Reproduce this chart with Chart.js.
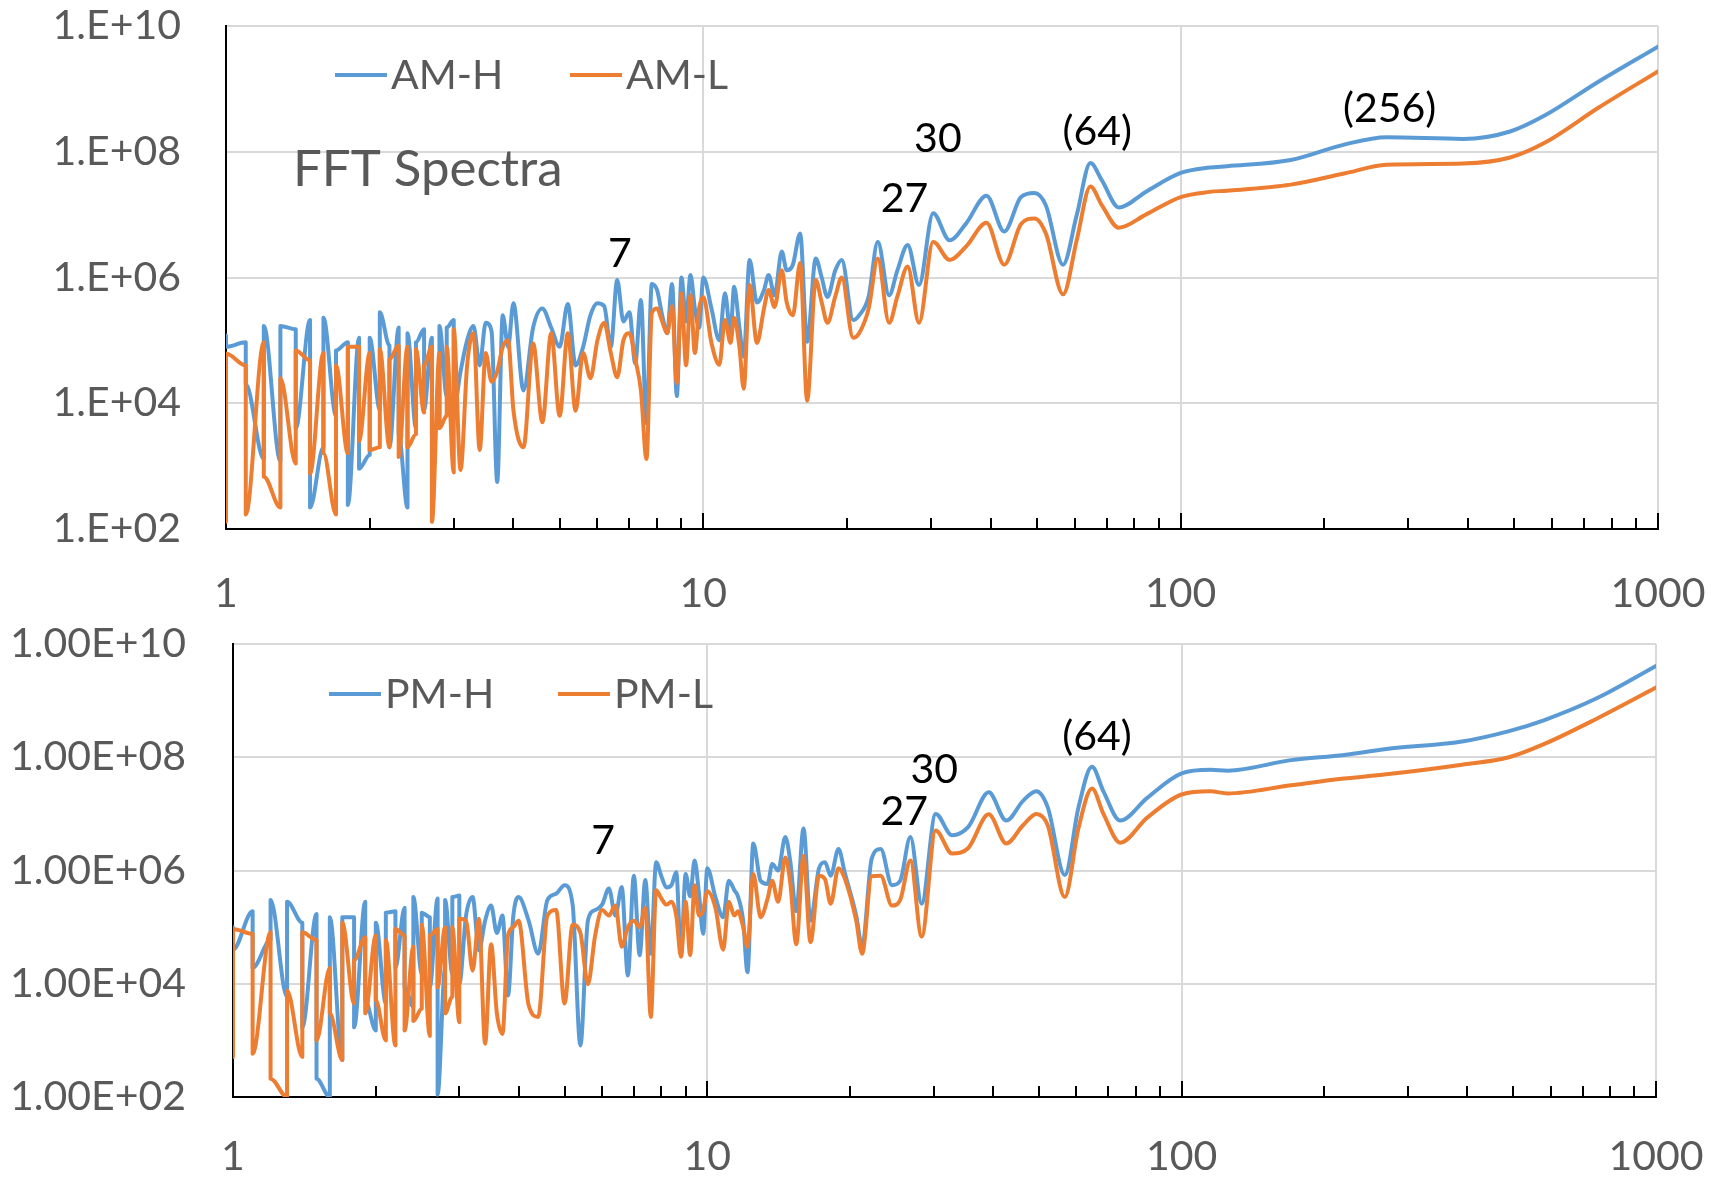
<!DOCTYPE html>
<html>
<head>
<meta charset="utf-8">
<title>FFT Spectra</title>
<script src="https://cdn.jsdelivr.net/npm/chart.js@4.4.1/dist/chart.umd.min.js"></script>
<style>
  html, body { margin: 0; padding: 0; background: #fff; }
  #wrap { position: relative; width: 1719px; height: 1178px; overflow: hidden; }
  #amChart { position: absolute; left: 0; top: 0; }
  #pmChart { position: absolute; left: 0; top: 600px; }
</style>
</head>
<body>
<div id="wrap">
  <canvas id="amChart" width="1719" height="630"></canvas>
  <canvas id="pmChart" width="1719" height="578"></canvas>
</div>
<script>
// Period axis (shared by all four spectra). Below 3 the values come in pairs
// (several FFT bins rounded onto the same period -> vertical combs).
const period = [
  1, 1, 1.1, 1.1, 1.2, 1.2, 1.3, 1.3, 1.4, 1.4, 1.5, 1.5, 1.6, 1.6, 1.7, 1.7, 1.8, 1.8, 1.9, 1.9,
  2, 2, 2.1, 2.1, 2.2, 2.2, 2.3, 2.3, 2.4, 2.4, 2.5, 2.5, 2.6, 2.6, 2.7, 2.7, 2.8, 2.8, 2.9, 2.9, 3, 3,
  3.1, 3.2, 3.3, 3.4, 3.5, 3.6, 3.7, 3.8, 3.9, 4,
  4.2, 4.4, 4.6, 4.8, 5, 5.2, 5.4, 5.6, 5.8, 6, 6.2, 6.4, 6.6, 6.8, 7, 7.2, 7.4, 7.6, 7.8, 8,
  8.2, 8.4, 8.6, 8.8, 9, 9.2, 9.4, 9.6, 9.8,
  10, 10.4, 10.8, 11.1, 11.4, 11.6, 11.9, 12.15, 12.5, 12.95, 13.4, 13.7, 14.1, 14.6, 14.95,
  15.4, 15.95, 16.5, 17.2, 17.7, 18.2, 18.9, 19.5, 20.6, 21.2, 22.2, 23.2, 24.5, 25.5, 26.8,
  28.3, 30.3, 32.8, 35.5, 39.2, 42.7, 46.3, 49.4, 52.2, 56.7, 60.6, 64.7, 68.4, 74.2, 84.5,
  100, 115, 125, 170, 220, 270, 390, 490, 580, 750, 1000
];

// AM-H
const amH = [
  1.2e5, 7.9e4, 9.3e4, 2.0e4, 1.3e3, 1.7e5, 1.2e3, 1.7e5, 1.5e5, 4.0e3, 2.1e5, 2.2e2, 2.0e3, 2.3e5,
  6.3e3, 6.9e4, 9.3e4, 2.4e2, 1.1e5, 9.1e2, 1.5e3, 1.1e5, 7.9e3, 2.8e5, 8.3e4, 2.0e3, 1.6e5, 3.2e3,
  2.2e2, 1.3e5, 4.0e3, 9.3e4, 1.5e5, 7.9e3, 1.1e5, 3.2e3, 5.0e3, 1.7e5, 1.3e4, 1.6e5, 2.1e5, 7.9e3,
  3.2e4, 1.0e5, 1.7e5, 4.0e4, 1.9e5, 1.4e5, 5.6e2, 2.5e5, 7.9e4, 3.9e5,
  1.6e4, 1.6e5, 3.2e5, 1.6e5, 7.9e4, 3.8e5, 4.0e4, 7.9e4, 2.5e5, 3.9e5, 3.5e5, 7.9e4, 9.1e5, 2.0e5,
  2.8e5, 4.3e4, 4.4e5, 4.8e3, 7.9e5, 6.3e5, 2.5e5, 1.3e5, 7.9e5, 1.3e4, 1.0e6, 2.0e5, 1.1e6, 3.2e5, 1.6e5,
  1.0e6, 3.2e5, 1.0e5, 5.6e5, 1.3e5, 7.1e5, 1.6e5, 5.5e4, 1.9e6, 4.0e5, 6.3e5, 1.1e6, 5.2e5, 2.6e6, 1.3e6,
  1.6e6, 5.0e6, 9.5e4, 2.0e6, 1.0e6, 4.9e5, 1.3e6, 1.9e6, 2.1e5, 2.5e5, 5.0e5, 3.7e6, 5.2e5, 1.3e6, 3.3e6,
  7.6e5, 1.05e7, 3.9e6, 7.2e6, 2.0e7, 5.4e6, 1.9e7, 2.2e7, 1.4e7, 1.6e6, 1.0e7, 6.6e7, 3.5e7, 1.3e7, 2.3e7,
  4.6e7, 5.6e7, 5.9e7, 7.4e7, 1.3e8, 1.7e8, 1.6e8, 2.1e8, 3.8e8, 1.3e9, 4.7e9
];

// AM-L
const amL = [
  1.3e2, 6.2e4, 4.0e4, 1.7e2, 9.3e4, 6.8e2, 2.2e2, 2.5e4, 1.1e3, 6.9e4, 4.8e4, 7.6e2, 6.3e4, 1.6e3,
  1.7e2, 4.0e4, 1.6e3, 7.9e4, 7.9e4, 2.5e3, 6.3e4, 1.8e3, 2.0e3, 7.2e4, 2.0e3, 5.0e4, 8.3e4, 1.4e3,
  7.9e4, 2.0e3, 3.2e3, 7.2e4, 7.1e3, 4.0e4, 7.9e4, 1.3e2, 6.3e4, 4.0e3, 6.3e3, 7.9e4, 7.9e2, 1.5e5,
  8.7e2, 4.0e4, 1.3e5, 1.8e3, 6.3e4, 2.2e4, 3.2e4, 7.9e4, 1.0e5, 7.9e3,
  2.0e3, 8.9e4, 5.0e3, 1.3e5, 6.3e3, 1.3e5, 7.6e3, 6.3e4, 2.5e4, 1.0e5, 1.9e5, 6.3e4, 2.6e4, 1.0e5,
  1.3e5, 5.0e4, 1.6e4, 1.3e3, 2.7e5, 3.2e5, 2.0e5, 1.3e5, 3.5e5, 2.1e4, 5.6e5, 4.0e4, 5.2e5, 6.3e4, 3.2e5,
  4.9e5, 9.1e4, 4.1e4, 2.1e5, 9.1e4, 2.3e5, 7.9e4, 1.7e4, 7.6e5, 9.1e4, 3.2e5, 6.3e5, 3.4e5, 1.3e6, 4.0e5,
  2.5e5, 1.7e6, 1.1e4, 9.1e5, 4.0e5, 1.9e5, 5.0e5, 1.0e6, 1.1e5, 1.3e5, 3.2e5, 2.0e6, 1.9e5, 5.0e5, 1.5e6,
  1.9e5, 3.7e6, 1.9e6, 3.1e6, 7.4e6, 1.6e6, 7.1e6, 8.7e6, 5.0e6, 5.4e5, 4.0e6, 2.8e7, 1.4e7, 6.2e6, 1.0e7,
  1.9e7, 2.3e7, 2.4e7, 3.0e7, 4.5e7, 6.2e7, 6.5e7, 8.1e7, 1.4e8, 5.0e8, 1.9e9
];

// PM-H
const pmH = [
  1.0e5, 4.0e4, 1.9e5, 1.9e4, 5.9e4, 3.0e5, 5.9e3, 2.8e5, 1.2e5, 1.7e3, 1.7e5, 2.1e2, 1.0e2, 1.5e5,
  4.5e2, 1.5e5, 1.5e5, 1.7e3, 2.8e5, 5.1e3, 1.5e3, 1.2e5, 4.5e3, 1.8e5, 1.9e5, 1.9e4, 2.2e5, 8.7e3,
  3.9e3, 3.4e5, 1.5e4, 1.8e5, 1.5e5, 8.7e3, 3.2e5, 1.1e2, 1.9e4, 3.0e5, 1.5e4, 3.4e5, 3.6e5, 1.0e4,
  1.6e5, 3.4e5, 3.9e4, 1.3e5, 2.4e5, 7.9e4, 1.6e5, 6.2e3, 1.6e5, 3.4e5,
  1.3e5, 3.4e4, 3.0e5, 3.9e5, 5.5e5, 2.5e5, 8.1e2, 1.3e5, 2.0e5, 2.5e5, 4.8e5, 1.6e5, 5.1e5, 1.4e4,
  8.1e5, 3.2e4, 6.8e5, 3.4e4, 1.4e6, 7.9e5, 5.0e5, 5.5e5, 9.3e5, 3.2e4, 8.7e5, 3.5e5, 1.5e6, 4.0e5, 7.6e4,
  1.1e6, 3.4e5, 1.5e5, 6.6e5, 4.5e5, 3.5e5, 1.3e5, 1.6e4, 3.0e6, 6.6e5, 5.8e5, 1.3e6, 1.0e6, 3.9e6, 1.5e6,
  1.9e5, 5.5e6, 1.3e5, 1.1e6, 1.4e6, 8.1e5, 2.4e6, 8.9e5, 1.6e5, 4.5e4, 1.6e6, 2.4e6, 5.5e5, 6.6e5, 3.9e6,
  2.6e5, 1.0e7, 4.2e6, 5.9e6, 2.4e7, 7.6e6, 1.7e7, 2.5e7, 1.3e7, 8.3e5, 1.3e7, 6.8e7, 2.5e7, 7.6e6, 1.9e7,
  5.2e7, 6.0e7, 5.8e7, 8.9e7, 1.1e8, 1.4e8, 1.9e8, 2.9e8, 4.5e8, 1.1e9, 4.1e9
];

// PM-L
const pmL = [
  5.1e2, 9.3e4, 7.6e4, 5.8e2, 8.1e4, 2.1e2, 1.0e2, 7.6e3, 5.1e2, 8.1e4, 5.9e4, 1.0e3, 1.9e4, 3.0e3,
  4.5e2, 1.2e5, 4.5e3, 2.6e4, 6.6e4, 3.0e3, 7.1e4, 5.1e3, 1.0e3, 5.9e4, 8.1e2, 9.3e4, 7.1e4, 1.5e3,
  4.5e4, 2.2e3, 3.6e3, 1.1e5, 1.2e3, 7.1e4, 9.3e4, 8.7e3, 1.0e5, 3.0e3, 5.9e3, 1.0e5, 2.1e3, 1.4e5,
  1.3e5, 1.7e4, 1.4e5, 8.7e2, 5.0e4, 3.0e3, 1.3e3, 7.1e4, 1.0e5, 1.3e5,
  4.2e3, 2.6e3, 1.6e5, 2.0e5, 4.5e3, 1.1e5, 7.9e4, 9.8e3, 7.1e4, 2.0e5, 1.6e5, 2.4e5, 4.5e4, 1.0e5,
  1.3e5, 1.0e5, 2.2e5, 2.6e3, 4.5e5, 3.2e5, 2.5e5, 2.8e5, 1.6e5, 3.0e4, 2.8e5, 3.2e4, 5.5e5, 1.6e5, 2.0e5,
  4.3e5, 2.2e5, 4.0e4, 2.8e5, 1.6e5, 1.9e5, 1.0e5, 4.5e4, 8.7e5, 1.5e5, 3.2e5, 6.6e5, 2.8e5, 1.7e6, 6.3e5,
  5.0e4, 1.8e6, 5.4e4, 8.1e5, 7.1e5, 2.6e5, 1.1e6, 7.1e5, 1.3e5, 3.4e4, 7.9e5, 8.1e5, 2.4e5, 3.0e5, 1.5e6,
  6.8e4, 5.1e6, 2.0e6, 2.5e6, 9.8e6, 3.0e6, 6.3e6, 1.0e7, 6.3e6, 3.4e5, 5.6e6, 2.8e7, 1.0e7, 3.1e6, 8.5e6,
  2.2e7, 2.5e7, 2.3e7, 3.2e7, 4.2e7, 5.0e7, 7.4e7, 1.0e8, 1.7e8, 4.8e8, 1.7e9
];

const xTicks = [1, 10, 100, 1000];
const yTicks = [1e2, 1e4, 1e6, 1e8, 1e10];

// Peak labels, placed at (period, amplitude)
const amNotes = [['7', 6.69, 2.4e6], ['27', 26.4, 1.8e7], ['30', 31.0, 1.6e8], ['(64)', 66.9, 2.1e8], ['(256)', 274, 4.9e8]];
const pmNotes = [['7', 6.03, 3.4e6], ['27', 26.0, 1.1e7], ['30', 30.1, 5.9e7], ['(64)', 66.3, 2.3e8]];

const FONT = 'Lato, "Open Sans", sans-serif';
const GREY = '#595959';
const BLUE = '#5B9BD5';
const ORANGE = '#ED7D31';
const GRID = '#d9d9d9';

[amH, amL, pmH, pmL].forEach(function (s, i) {
  if (s.length !== period.length) console.error('series ' + i + ' has ' + s.length + ' values, expected ' + period.length);
});

function toPoints(values) {
  return period.map(function (x, i) { return { x: x, y: values[i] }; });
}

function sciLabel(zeros) {
  return function (v) {
    const e = Math.round(Math.log10(v));
    return '1.' + '0'.repeat(zeros) + 'E+' + String(e).padStart(2, '0');
  };
}

// small inward tick marks on the period axis
const minorTicks = {
  id: 'minorTicks',
  beforeDatasetsDraw(chart) {
    const xs = chart.scales.x, ctx = chart.ctx, y0 = chart.chartArea.bottom;
    ctx.save();
    ctx.strokeStyle = '#000';
    ctx.lineWidth = 2;
    ctx.beginPath();
    [1, 10, 100].forEach(function (d) {
      for (let m = 2; m <= 10; m++) {
        const px = Math.round(xs.getPixelForValue(d * m));
        ctx.moveTo(px, y0);
        ctx.lineTo(px, y0 - (m === 10 ? 16 : 11));
      }
    });
    ctx.stroke();
    ctx.restore();
  }
};

function decorations(spec) {
  return {
    id: 'decorations',
    afterDraw(chart) {
      const ctx = chart.ctx, xs = chart.scales.x, ys = chart.scales.y;
      ctx.save();
      ctx.textBaseline = 'middle';
      ctx.textAlign = 'left';
      ctx.font = '41px ' + FONT;
      // legend
      spec.legend.forEach(function (item) {
        ctx.strokeStyle = item.color;
        ctx.lineWidth = 4;
        ctx.beginPath();
        ctx.moveTo(item.x, spec.legendY);
        ctx.lineTo(item.x + 52, spec.legendY);
        ctx.stroke();
        ctx.fillStyle = GREY;
        ctx.fillText(item.text, item.x + 56, spec.legendY + 1);
      });
      // title
      if (spec.title) {
        ctx.font = '51px ' + FONT;
        ctx.fillStyle = GREY;
        ctx.fillText(spec.title, 293, 170);
      }
      // peak labels
      ctx.font = '41px ' + FONT;
      ctx.fillStyle = '#000';
      ctx.textAlign = 'center';
      spec.notes.forEach(function (n) {
        ctx.fillText(n[0], xs.getPixelForValue(n[1]), ys.getPixelForValue(n[2]));
      });
      ctx.restore();
    }
  };
}

function buildChart(id, hi, lo, spec) {
  return new Chart(document.getElementById(id), {
    type: 'line',
    data: {
      datasets: [
        { label: spec.legend[1].text, data: toPoints(lo), borderColor: ORANGE, order: 0 },
        { label: spec.legend[0].text, data: toPoints(hi), borderColor: BLUE, order: 1 }
      ]
    },
    options: {
      responsive: false,
      animation: false,
      devicePixelRatio: 1,
      layout: { padding: { top: spec.top, right: spec.right, left: 0, bottom: 0 } },
      elements: {
        point: { radius: 0 },
        line: { borderWidth: 4, cubicInterpolationMode: 'monotone', borderJoinStyle: 'round', borderCapStyle: 'round' }
      },
      plugins: { legend: { display: false }, tooltip: { enabled: false } },
      scales: {
        x: {
          type: 'logarithmic',
          min: 1,
          max: 1000,
          afterBuildTicks: function (s) { s.ticks = xTicks.map(function (v) { return { value: v }; }); },
          afterFit: function (s) {
            s.height = spec.xHeight;
            s.paddingLeft = 0;
            s.paddingRight = 0;
          },
          ticks: {
            callback: function (v) { return String(v); },
            font: { family: FONT, size: 41 },
            color: GREY,
            padding: spec.xPad,
            maxRotation: 0,
            autoSkip: false
          },
          grid: { color: GRID, lineWidth: 2, drawTicks: false },
          border: { color: '#000', width: 2 }
        },
        y: {
          type: 'logarithmic',
          min: 1e2,
          max: 1e10,
          afterBuildTicks: function (s) { s.ticks = yTicks.map(function (v) { return { value: v }; }); },
          afterFit: function (s) {
            s.width = spec.yWidth;
            s.paddingTop = 0;
            s.paddingBottom = 0;
          },
          ticks: {
            callback: spec.yLabel,
            font: { family: FONT, size: 41 },
            color: GREY,
            padding: spec.yPad
          },
          grid: { color: GRID, lineWidth: 2, drawTicks: false },
          border: { color: '#000', width: 2 }
        }
      }
    },
    plugins: [minorTicks, decorations(spec)]
  });
}

buildChart('amChart', amH, amL, {
  top: 26, right: 61, xHeight: 101, yWidth: 226, yPad: 45, xPad: 40,
  yLabel: sciLabel(0),
  legendY: 75,
  legend: [{ text: 'AM-H', color: BLUE, x: 335 }, { text: 'AM-L', color: ORANGE, x: 570 }],
  title: 'FFT Spectra',
  notes: amNotes
});

buildChart('pmChart', pmH, pmL, {
  top: 44, right: 63, xHeight: 81, yWidth: 233, yPad: 47, xPad: 35,
  yLabel: sciLabel(2),
  legendY: 94,
  legend: [{ text: 'PM-H', color: BLUE, x: 329 }, { text: 'PM-L', color: ORANGE, x: 558 }],
  title: null,
  notes: pmNotes
});
</script>
</body>
</html>
